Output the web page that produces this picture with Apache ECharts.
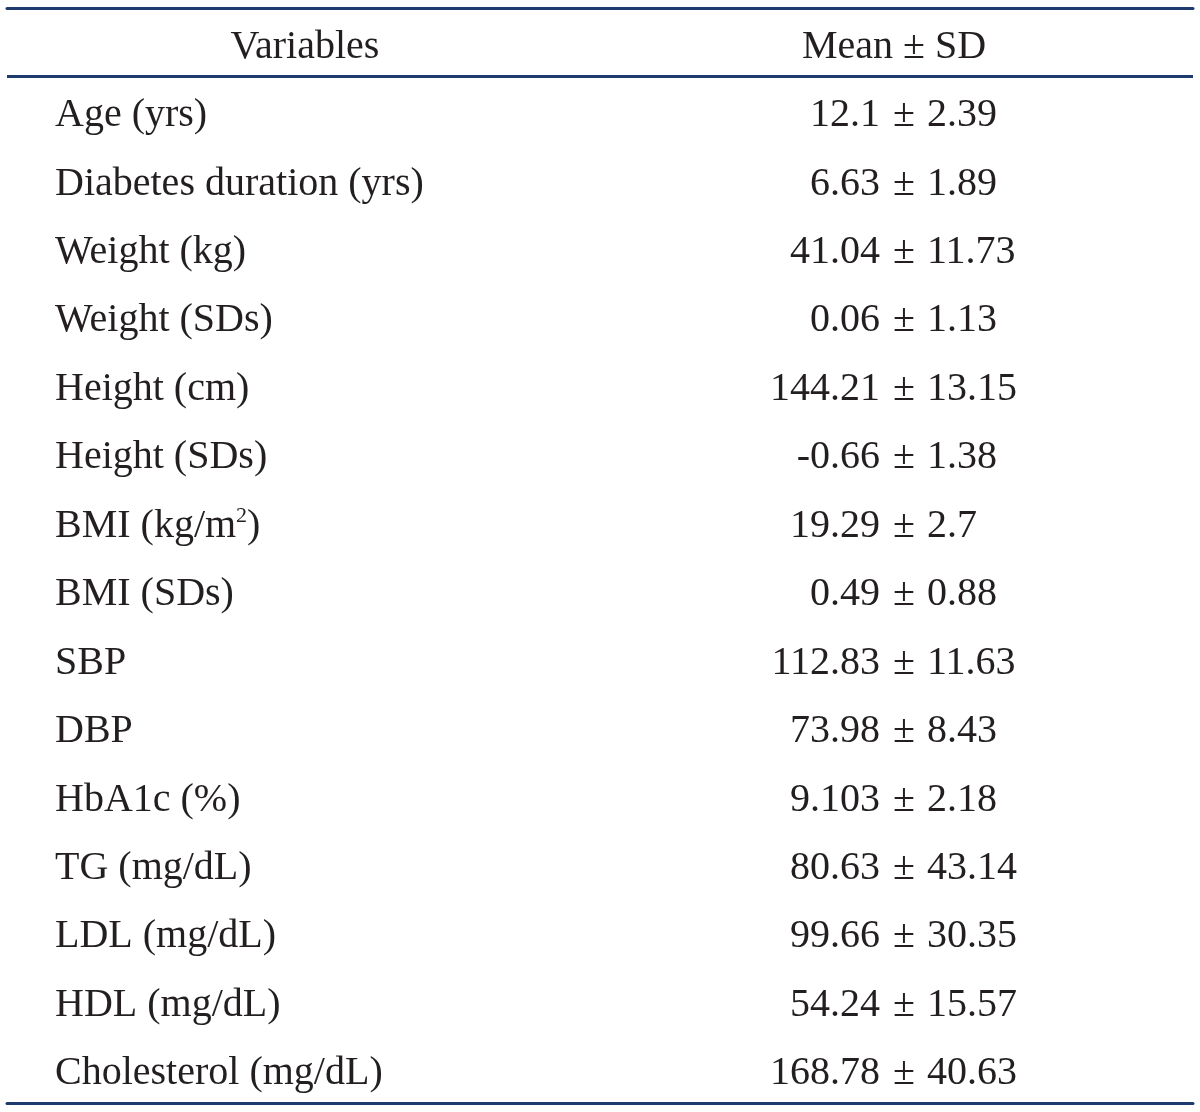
<!DOCTYPE html>
<html>
<head>
<meta charset="utf-8">
<script src="https://cdn.jsdelivr.net/npm/echarts@6/dist/echarts.min.js"></script>
<style>html,body{margin:0;padding:0;background:#fff;}#c{width:1200px;height:1112px;}</style>
</head>
<body>
<div id="c"></div>
<script>
const headers = ['Variables', 'Mean ± SD'];
const variables = ['Age (yrs)', 'Diabetes duration (yrs)', 'Weight (kg)', 'Weight (SDs)', 'Height (cm)', 'Height (SDs)', 'BMI (kg/m2)', 'BMI (SDs)', 'SBP', 'DBP', 'HbA1c (%)', 'TG (mg/dL)', 'LDL (mg/dL)', 'HDL (mg/dL)', 'Cholesterol (mg/dL)'];
const means = ['12.1', '6.63', '41.04', '0.06', '144.21', '-0.66', '19.29', '0.49', '112.83', '73.98', '9.103', '80.63', '99.66', '54.24', '168.78'];
const sds = ['2.39', '1.89', '11.73', '1.13', '13.15', '1.38', '2.7', '0.88', '11.63', '8.43', '2.18', '43.14', '30.35', '15.57', '40.63'];

const rows = ['__header__'].concat(variables);
const TEXT = '#231f20';
const RULE = '#1d3b6e';
const FONT = 'Liberation Serif';
const FS = 40;

// column anchors (x-axis units)
const COL_NAME = 55, COL_HDR1 = 305, COL_HDR2 = 894, COL_MEAN = 880, COL_PM = 904, COL_SD = 927;

const baseLabel = {show: true, color: TEXT, fontFamily: FONT, fontSize: FS, offset: [0, 5]};

function nameLabel(v) {
  return v.replace('m2)', 'm{sup|2})');
}

// only the boundary between the header row and the first data row gets a rule
const splitColors = [];
for (let i = 0; i <= rows.length; i++) splitColors.push(i === 1 ? RULE : 'rgba(0,0,0,0)');

const chart = echarts.init(document.getElementById('c'), null, {renderer: 'canvas'});
const textSeries = (data, label) => ({
  type: 'scatter', symbolSize: 0, silent: true,
  itemStyle: {opacity: 1}, data: data, label: label
});
chart.setOption({
  animation: false,
  backgroundColor: '#fff',
  grid: {left: 7, right: 7, top: 8, bottom: 9, containLabel: false},
  xAxis: [
    {type: 'value', min: 7, max: 1193, position: 'top',
     axisLine: {show: true, onZero: false, lineStyle: {color: RULE, width: 3}},
     axisTick: {show: false}, axisLabel: {show: false}, splitLine: {show: false}},
    {type: 'value', min: 7, max: 1193, position: 'bottom',
     axisLine: {show: true, onZero: false, lineStyle: {color: RULE, width: 3}},
     axisTick: {show: false}, axisLabel: {show: false}, splitLine: {show: false}}
  ],
  yAxis: {
    type: 'category', data: rows, inverse: true,
    axisLine: {show: false}, axisTick: {show: false}, axisLabel: {show: false},
    splitLine: {show: true, interval: 0, lineStyle: {color: splitColors, width: 3}}
  },
  series: [
    textSeries(headers.map((h, i) => ({value: [i === 0 ? COL_HDR1 : COL_HDR2, 0], name: h})),
      Object.assign({}, baseLabel, {position: 'inside', formatter: p => p.name})),
    textSeries(variables.map((v, i) => ({value: [COL_NAME, i + 1], name: v})),
      Object.assign({}, baseLabel, {
        position: 'right', distance: 0,
        formatter: p => nameLabel(p.name),
        rich: {sup: {fontFamily: FONT, fontSize: 22, color: TEXT, padding: [0, 0, 20, 0]}}
      })),
    textSeries(means.map((m, i) => ({value: [COL_MEAN, i + 1], name: m})),
      Object.assign({}, baseLabel, {position: 'left', distance: 0, formatter: p => p.name})),
    textSeries(means.map((m, i) => ({value: [COL_PM, i + 1], name: '±'})),
      Object.assign({}, baseLabel, {position: 'inside', formatter: p => p.name})),
    textSeries(sds.map((s, i) => ({value: [COL_SD, i + 1], name: s})),
      Object.assign({}, baseLabel, {position: 'right', distance: 0, formatter: p => p.name}))
  ]
});
</script>
</body>
</html>
